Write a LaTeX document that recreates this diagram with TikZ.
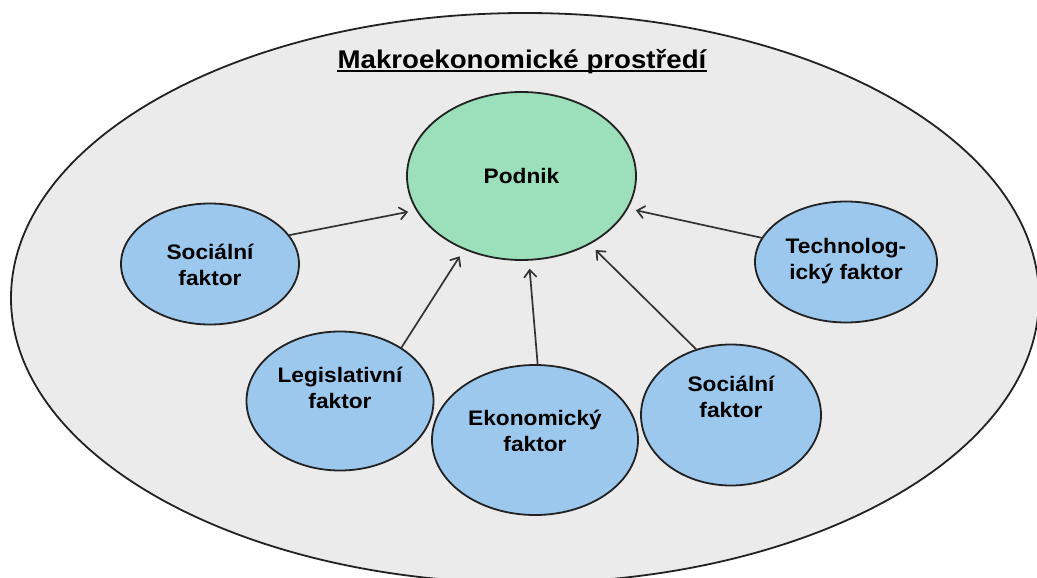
\documentclass[tikz,border=0pt]{standalone}
\usepackage{fontspec}
\setmainfont{Liberation Sans}
\newfontfamily\nodefont[FakeStretch=1.08]{Liberation Sans}
\usetikzlibrary{arrows.meta,shapes.geometric}
\definecolor{bgfill}{HTML}{EBEBEB}
\definecolor{podgreen}{HTML}{9BDFBB}
\definecolor{facblue}{HTML}{9DC8EE}
\definecolor{edgec}{HTML}{222222}
\definecolor{arrowc}{HTML}{333333}
\begin{document}
\begin{tikzpicture}[x=1pt,y=-1pt,
  oval/.style={ellipse, draw=edgec, line width=1.8pt, inner sep=0pt},
  podstyle/.style={oval, fill=podgreen, minimum width=229pt, minimum height=168pt},
  facstyle/.style={oval, fill=facblue},
  lbl/.style={align=center, inner sep=0pt, font=\nodefont\bfseries\fontsize{21}{26}\selectfont},
  arr/.style={draw=arrowc, line width=1.7pt, line cap=round, -{Straight Barb[length=7pt,width=12pt,line cap=round]}, shorten >=8pt}
]
\useasboundingbox (0,0) rectangle (1037,578);
\clip (0,0) rectangle (1037,578);
\fill[white] (0,0) rectangle (1037,578);
\draw[draw=edgec, line width=1.8pt, fill=bgfill] (525,298) ellipse [x radius=514, y radius=285];

\node[anchor=base, inner sep=0pt, font=\nodefont\bfseries\fontsize{25.6}{30}\selectfont] (title) at (522,69) {Makroekonomické prostředí};
\draw[line width=2pt] ([yshift=-2.5pt]title.base west) -- ([yshift=-2.5pt]title.base east);

\node[podstyle, lbl] (pod) at (521.5,176) {Podnik};

\node[facstyle, minimum width=178pt, minimum height=121pt] (soc1) at (210,264) {};
\node[lbl] (soc1t) at (210,265) {Sociální\\faktor};

\node[facstyle, minimum width=182pt, minimum height=121pt] (tech) at (846,262) {};
\node[lbl] (techt) at (846,261) {Technolog-\\ický faktor};

\node[facstyle, minimum width=187pt, minimum height=139pt] (leg) at (340,401) {};
\node[lbl] (legt) at (340,388) {Legislativní\\faktor};

\node[facstyle, minimum width=206pt, minimum height=150pt] (eko) at (535,440) {};
\node[lbl] (ekot) at (535,431) {Ekonomický\\faktor};

\node[facstyle, minimum width=180pt, minimum height=141pt] (soc2) at (731,415) {};
\node[lbl] (soc2t) at (731,397) {Sociální\\faktor};

\draw[arr] (soc1.20) -- (pod.198);
\draw[arr] (leg.41) -- (pod.232);
\draw[arr] (eko.88.5) -- (pod.275);
\draw[arr] (soc2.118) -- (pod.315.6);
\draw[arr] (tech.164) -- (pod.343.5);
\end{tikzpicture}
\end{document}
